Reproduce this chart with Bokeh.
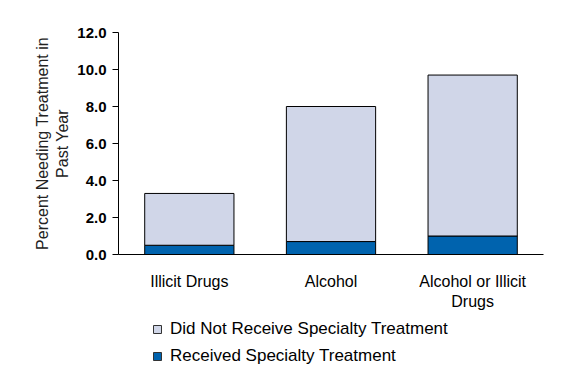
from bokeh.plotting import figure
from bokeh.layouts import column
from bokeh.models import ColumnDataSource, Range1d, FactorRange, FixedTicker, NumeralTickFormatter, Legend, LegendItem
from bokeh.embed import file_html
from bokeh.resources import INLINE

categories = ["Illicit Drugs", "Alcohol", "Alcohol or Illicit\nDrugs"]
received = [0.5, 0.7, 1.0]
did_not_receive = [2.8, 7.3, 8.7]
series_names = ["Received Specialty Treatment", "Did Not Receive Specialty Treatment"]
colors = ["#0063AE", "#D0D6E8"]
y_ticks = [0, 2, 4, 6, 8, 10, 12]

src = ColumnDataSource(dict(cat=categories, rec=received, notrec=did_not_receive))

p = figure(width=555, height=316, output_backend="svg", toolbar_location=None,
           x_range=FactorRange(*categories, range_padding=0), y_range=Range1d(0, 12),
           min_border_left=118, min_border_right=12, min_border_top=32, min_border_bottom=62)

p.vbar_stack(["rec", "notrec"], x="cat", width=0.63, source=src,
             fill_color=colors, line_color="black", line_width=1)

p.xgrid.visible = False
p.ygrid.visible = False
p.outline_line_color = None

ya = p.yaxis[0]
ya.ticker = FixedTicker(ticks=y_ticks)
ya.formatter = NumeralTickFormatter(format="0.0")
ya.major_tick_out = 6
ya.major_tick_in = 0
ya.minor_tick_line_color = None
ya.major_label_text_font = "Liberation Sans"
ya.major_label_text_font_style = "bold"
ya.major_label_text_font_size = "15px"
ya.major_label_text_color = "black"
ya.major_label_standoff = 6
ya.axis_line_color = "black"
ya.major_tick_line_color = "black"
ya.axis_label = "Percent Needing Treatment in\nPast Year"
ya.axis_label_text_font = "Liberation Sans"
ya.axis_label_text_font_style = "normal"
ya.axis_label_text_font_size = "16px"
ya.axis_label_text_color = "#222222"
ya.axis_label_standoff = 3

xa = p.xaxis[0]
xa.major_tick_line_color = None
xa.minor_tick_line_color = None
xa.axis_line_color = "black"
xa.major_label_text_font = "Liberation Sans"
xa.major_label_text_font_size = "16px"
xa.major_label_text_color = "black"
xa.major_label_standoff = 12

# legend figure below the chart (bars fall outside its range, only the legend shows)
p2 = figure(width=555, height=76, output_backend="svg", toolbar_location=None,
            x_range=FactorRange(*categories), y_range=Range1d(100, 101),
            min_border=0, min_border_left=0, min_border_right=0, min_border_top=0, min_border_bottom=0)
p2.axis.visible = False
p2.xgrid.visible = False
p2.ygrid.visible = False
p2.outline_line_color = None
r2 = p2.vbar_stack(["rec", "notrec"], x="cat", width=0.63, source=src,
                   fill_color=colors, line_color="#333333", line_width=1)

legend = Legend(items=[LegendItem(label=series_names[1], renderers=[r2[1]]),
                       LegendItem(label=series_names[0], renderers=[r2[0]])],
                location=(34, 26), orientation="vertical", padding=0, margin=0,
                border_line_color=None, background_fill_alpha=0,
                glyph_width=10, glyph_height=10, label_height=20, spacing=7,
                label_standoff=8, label_text_font="Liberation Sans",
                label_text_font_size="17px", label_text_color="black")
p2.add_layout(legend, "center")

layout = column(p, p2, spacing=0)
open("out.html", "w").write(file_html(layout, INLINE))
